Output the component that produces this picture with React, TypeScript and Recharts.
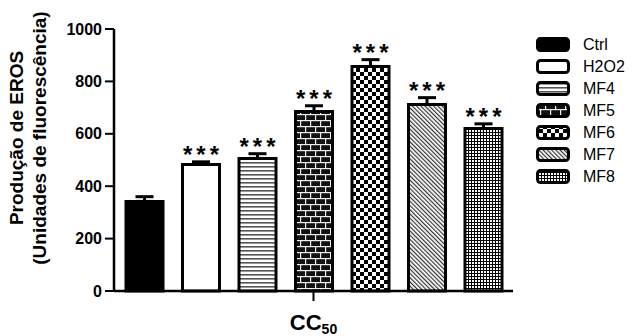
import { BarChart, Bar, XAxis, YAxis, ErrorBar, LabelList, Legend } from 'recharts'

const categories = ['CC50']
const seriesNames = ['Ctrl', 'H2O2', 'MF4', 'MF5', 'MF6', 'MF7', 'MF8']
const meanValues = [342, 483, 506, 685, 857, 712, 620]
const semValues = [18, 10, 18, 22, 26, 26, 18]
const significance = ['', '***', '***', '***', '***', '***', '***']
const yTicks = [0, 200, 400, 600, 800, 1000]

const fills = ['#000000', '#ffffff', 'url(#pMF4)', 'url(#pMF5)', 'url(#pMF6)', 'url(#pMF7)', 'url(#pMF8)']
const FONT = '"Liberation Sans", Arial, sans-serif'

const chartData = categories.map((name) => {
  const row: Record<string, unknown> = { name }
  seriesNames.forEach((s, i) => {
    row[s] = meanValues[i]
    row[`${s}_err`] = [0, semValues[i]]
  })
  return row
})

function StarLabel(props: any) {
  const { x, y, width, height, value, sem, mark } = props
  if (!mark) return null
  const v = Number(value)
  const h = Number(height)
  const errPx = v > 0 ? (h * sem) / v : 0
  const cx = Number(x) + Number(width) / 2
  return (
    <text x={cx + 2} y={Number(y) - errPx + 1} textAnchor="middle" fontSize={24} fontWeight="bold"
      fontFamily={FONT} letterSpacing={4} fill="#000">
      {mark}
    </text>
  )
}

function YLabel(props: any) {
  const vb = props.viewBox || {}
  const x0 = vb.x ?? 0
  const cy = (vb.y ?? 0) + (vb.height ?? 0) / 2 - 22
  const style = { fontFamily: FONT, fontSize: 19, fontWeight: 'bold' as const, fill: '#000' }
  return (
    <g>
      <text transform={`translate(${x0 + 23},${cy}) rotate(-90)`} textAnchor="middle" {...style}>Produção de EROS</text>
      <text transform={`translate(${x0 + 46},${cy}) rotate(-90)`} textAnchor="middle" {...style}>(Unidades de fluorescência)</text>
    </g>
  )
}

function CCTick(props: any) {
  const { x, y, payload } = props
  const label = String(payload?.value ?? '')
  return (
    <text x={x} y={y + 27} textAnchor="middle" fontFamily={FONT} fontWeight="bold" fontSize={22} fill="#000">
      <tspan>{label.slice(0, 2)}</tspan>
      <tspan fontSize={14} dy={4}>{label.slice(2)}</tspan>
    </text>
  )
}

function PatternLegend() {
  return (
    <div style={{ fontFamily: FONT, fontSize: 16, color: '#000' }}>
      {seriesNames.map((name, i) => (
        <div key={name} style={{ display: 'flex', alignItems: 'center', height: 22 }}>
          <svg width={36} height={16}>
            <rect x={2.5} y={1.5} width={31} height={12} rx={3} fill={fills[i]} stroke="#000" strokeWidth={3} />
          </svg>
          <span style={{ marginLeft: 12, lineHeight: '22px' }}>{name}</span>
        </div>
      ))}
    </div>
  )
}

export default function App() {
  return (
    <div style={{ position: 'absolute', left: 0, top: 0 }}>
      <BarChart width={638} height={336} data={chartData} margin={{ top: 29, right: 125, bottom: 0, left: 0 }}
        barSize={37} barGap={19.5}>
        <defs>
          <pattern id="pMF4" width={4} height={4} patternUnits="userSpaceOnUse">
            <rect width={4} height={4} fill="#fff" />
            <rect y={2} width={4} height={1.6} fill="#555" />
          </pattern>
          <pattern id="pMF5" width={10} height={12} patternUnits="userSpaceOnUse">
            <rect width={10} height={12} fill="#111" />
            <rect y={0} width={10} height={1.2} fill="#eee" />
            <rect y={6} width={10} height={1.2} fill="#eee" />
            <rect x={0} y={1} width={1.2} height={5} fill="#eee" />
            <rect x={5} y={7} width={1.2} height={5} fill="#eee" />
          </pattern>
          <pattern id="pMF6" width={8} height={8} patternUnits="userSpaceOnUse">
            <rect width={8} height={8} fill="#fff" />
            <rect width={4} height={4} fill="#000" />
            <rect x={4} y={4} width={4} height={4} fill="#000" />
          </pattern>
          <pattern id="pMF7" width={3} height={3} patternUnits="userSpaceOnUse" patternTransform="rotate(-45)">
            <rect width={3} height={3} fill="#fff" />
            <rect width={1.2} height={3} fill="#333" />
          </pattern>
          <pattern id="pMF8" width={3} height={3} patternUnits="userSpaceOnUse">
            <rect width={3} height={3} fill="#fff" />
            <rect width={3} height={1} fill="#000" />
            <rect width={1} height={3} fill="#000" />
          </pattern>
        </defs>
        <XAxis
          dataKey="name"
          axisLine={{ stroke: '#000', strokeWidth: 2.5 }}
          tickLine={{ stroke: '#000', strokeWidth: 2 }}
          tickSize={10}
          height={45}
          tick={<CCTick />}
        />
        <YAxis
          domain={[0, 1000]}
          ticks={yTicks}
          interval={0}
          width={114}
          axisLine={{ stroke: '#000', strokeWidth: 2.5 }}
          tickLine={{ stroke: '#000', strokeWidth: 2 }}
          tickSize={9}
          tickMargin={3}
          tick={{ fill: '#000', fontSize: 16, fontWeight: 'bold', fontFamily: FONT }}
          label={<YLabel />}
        />
        <Legend layout="vertical" align="center" verticalAlign="middle"
          wrapperStyle={{ left: 535, top: 34, width: 100, height: 160 }}
          content={() => <PatternLegend />} />
        {seriesNames.map((s, i) => (
          <Bar key={s} dataKey={s} fill={fills[i]} stroke="#000" strokeWidth={3} isAnimationActive={false}>
            <ErrorBar dataKey={`${s}_err`} width={9} strokeWidth={3} stroke="#000" direction="y" />
            <LabelList dataKey={s} content={(p: any) => <StarLabel {...p} sem={semValues[i]} mark={significance[i]} />} />
          </Bar>
        ))}
      </BarChart>
    </div>
  )
}
